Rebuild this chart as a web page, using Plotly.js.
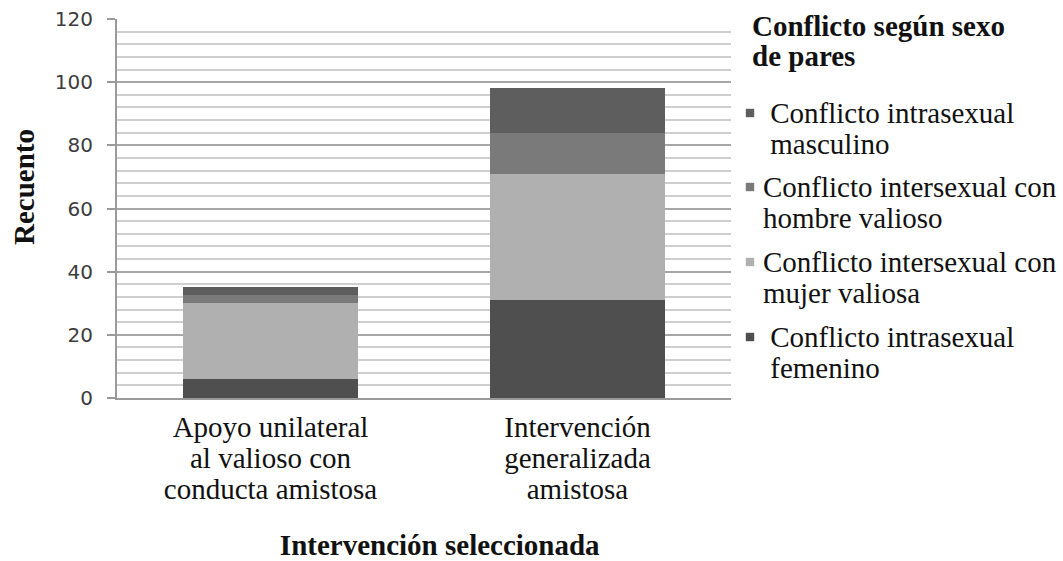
<!DOCTYPE html>
<html>
<head>
<meta charset="utf-8">
<script src="https://cdn.plot.ly/plotly-3.0.1.min.js"></script>
<style>html,body{margin:0;padding:0;background:#fff;}</style>
</head>
<body>
<div id="chart" style="width:1063px;height:561px;"></div>
<script>
const categories = [
  "Apoyo unilateral<br>al valioso con<br>conducta amistosa",
  "Intervención<br>generalizada<br>amistosa"
];
const seriesNames = [
  " Conflicto intrasexual<br> femenino",
  "Conflicto intersexual con<br>mujer valiosa",
  "Conflicto intersexual con<br>hombre valioso",
  " Conflicto intrasexual<br> masculino"
];
const femenino = [6, 31];
const mujerValiosa = [24, 40];
const hombreValioso = [2.5, 13];
const masculino = [2.7, 14];
const yTicks = [0, 20, 40, 60, 80, 100, 120];

const seriesValues = [femenino, mujerValiosa, hombreValioso, masculino];
const colors = ["#4f4f4f", "#b0b0b0", "#7a7a7a", "#5e5e5e"];
const serif = "Liberation Serif";
const FS = 29;

const data = seriesValues.map((vals, i) => ({
  type: "bar",
  name: seriesNames[i],
  x: categories,
  y: vals,
  width: 0.57,
  marker: {color: colors[i], line: {width: 0}},
  legendgroup: "g" + i
}));

const layout = {
  width: 1063, height: 561,
  margin: {l: 117, r: 332, t: 19, b: 163},
  paper_bgcolor: "#fff", plot_bgcolor: "#fff",
  font: {family: serif},
  barmode: "stack",
  showlegend: true,
  legend: {
    traceorder: "reversed",
    tracegroupgap: 0,
    xref: "container", yref: "container",
    x: 0.692, y: 0.99, xanchor: "left", yanchor: "top",
    maxheight: 600,
    font: {family: serif, size: 22, color: "#111"},
    title: {text: "<b>Conflicto según sexo<br>de pares</b>", font: {family: serif, size: 22, color: "#111"}},
    itemwidth: 30,
    bgcolor: "rgba(0,0,0,0)"
  },
  xaxis: {
    type: "category",
    range: [-0.5, 1.5],
    showgrid: false,
    showline: true, linecolor: "#9a9a9a", linewidth: 2,
    ticks: "",
    tickangle: 0,
    tickfont: {family: serif, size: FS, color: "#111"},
    title: {text: "<b>Intervención seleccionada</b>", font: {family: serif, size: FS, color: "#111"}, standoff: 20},
    automargin: false
  },
  yaxis: {
    range: [0, 120],
    tickvals: yTicks,
    ticktext: yTicks.map(String),
    showgrid: true, gridcolor: "#a6a6a6", gridwidth: 2,
    minor: {dtick: 4, showgrid: true, gridcolor: "#cfcfcf", gridwidth: 2, ticks: ""},
    showline: true, linecolor: "#9a9a9a", linewidth: 2,
    ticks: "outside", ticklen: 8, tickcolor: "#9a9a9a", tickwidth: 2,
    ticklabelstandoff: 10,
    tickfont: {family: "DejaVu Sans", size: 20, color: "#3c3c3c"},
    title: {text: "<b>Recuento</b>", font: {family: serif, size: FS, color: "#111"}, standoff: 16},
    zeroline: false,
    automargin: false
  }
};

Plotly.newPlot("chart", data, layout, {displayModeBar: false, staticPlot: true}).then(() => {
  const root = document.getElementById("chart");
  const shift = (el, dx, dy) => el.setAttribute("transform", "translate(" + dx + "," + dy + ") " + (el.getAttribute("transform") || ""));
  const spacing = (el, em) => el.querySelectorAll("tspan.line").forEach(t => {
    const d = parseFloat(t.getAttribute("dy"));
    if (d > 0) t.setAttribute("dy", (d / 1.3 * em) + "em");
  });
  const first = el => el.querySelector("tspan.line") || el;
  const box = el => el.getBoundingClientRect();
  const cy = r => r.top + r.height / 2;
  const cx = r => r.left + r.width / 2;

  root.querySelectorAll(".legendpoints path").forEach(p => {
    p.setAttribute("transform", (p.getAttribute("transform") || "") + " scale(0.7)");
  });
  root.querySelectorAll(".legend .scrollbox").forEach(s => s.removeAttribute("clip-path"));
  root.querySelectorAll(".legend text").forEach(t => { t.style.fontSize = FS + "px"; });

  // category tick labels: tighter lines, first line centred like the reference
  root.querySelectorAll(".xtick text, text.xtick").forEach(t => {
    spacing(t, 1.07);
    const r = box(first(t));
    shift(t, 0, 427 - cy(r));
  });

  // legend title
  const title = root.querySelector(".legendtitletext");
  if (title) {
    spacing(title, 1.03);
    const r = box(first(title));
    shift(title, 752 - r.left, 26 - cy(r));
  }

  // legend items
  const targets = [113, 187, 262, 337];
  const items = Array.from(root.querySelectorAll(".legend .traces")).sort((a, b) => box(a).top - box(b).top);
  items.forEach((g, k) => {
    const t = g.querySelector(".legendtext");
    if (t) {
      spacing(t, 1.07);
      const r = box(first(t));
      shift(t, 763 - r.left, targets[k] - cy(r));
    }
    const p = g.querySelector(".legendpoints");
    if (p) {
      const pr = box(p);
      shift(p, 750 - cx(pr), targets[k] - cy(pr));
    }
  });

  // axis titles
  const xt = root.querySelector(".g-xtitle text");
  if (xt) { const r = box(xt); shift(xt, 440 - cx(r), 545 - cy(r)); }
  const yt = root.querySelector(".g-ytitle text");
  if (yt) { const r = box(yt); shift(yt, 24 - cx(r), 187 - cy(r)); }
});
</script>
</body>
</html>
